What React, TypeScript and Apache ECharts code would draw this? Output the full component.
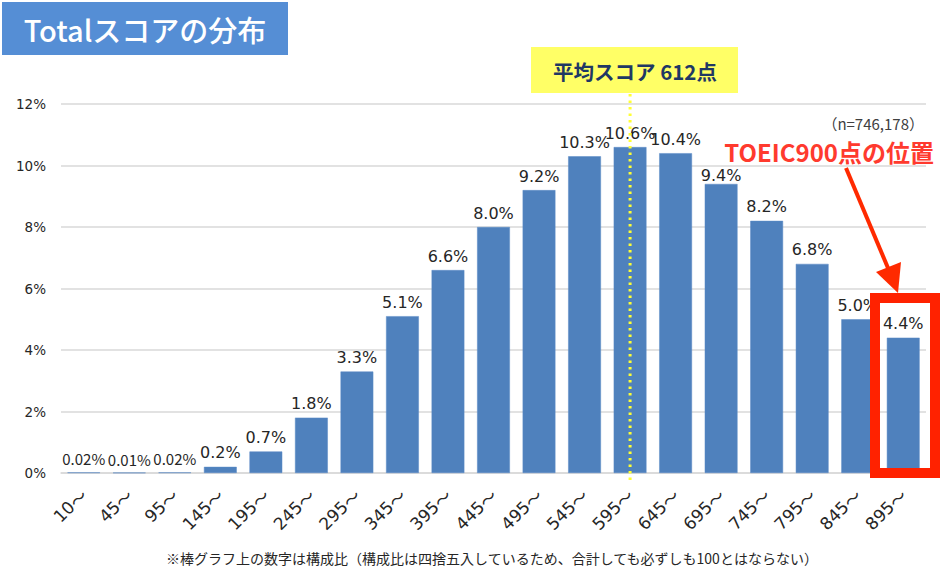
import React, { useEffect, useRef } from "react";
import * as echarts from "echarts";

const categories = ["10～", "45～", "95～", "145～", "195～", "245～", "295～", "345～", "395～", "445～", "495～", "545～", "595～", "645～", "695～", "745～", "795～", "845～", "895～"];
const shares = [0.02, 0.01, 0.02, 0.2, 0.7, 1.8, 3.3, 5.1, 6.6, 8.0, 9.2, 10.3, 10.6, 10.4, 9.4, 8.2, 6.8, 5.0, 4.4];
const yTicks = { min: 0, max: 12, interval: 2 };
const meanCategory = "595～";
const titleText = "Totalスコアの分布";
const meanText = "平均スコア 612点";
const sampleText = "（n=746,178）";
const highlightText = "TOEIC900点の位置";
const footnote = "※棒グラフ上の数字は構成比（構成比は四捨五入しているため、合計しても必ずしも100とはならない）";

const FONT = "'DejaVu Sans', 'Noto Sans CJK JP', sans-serif";
const JFONT = "'Noto Sans CJK JP', 'DejaVu Sans', sans-serif";

export default function App() {
  const ref = useRef<HTMLDivElement>(null);
  useEffect(() => {
    if (!ref.current) return;
    const chart = echarts.init(ref.current, undefined, { renderer: "svg" });
    chart.setOption({
      animation: false,
      backgroundColor: "#ffffff",
      grid: { left: 61, right: 14, top: 104, bottom: 97, containLabel: false },
      xAxis: {
        type: "category",
        data: categories,
        axisLine: { lineStyle: { color: "#D9D9D9", width: 1.5 } },
        axisTick: { show: false },
        axisLabel: {
          rotate: 45,
          margin: 19,
          interval: 0,
          formatter: (v: string) => `{n|${v.replace("～", "")}}{t|～}`,
          rich: {
            n: { fontSize: 17, color: "#262626", fontFamily: FONT },
            t: { fontSize: 17, color: "#262626", fontFamily: JFONT },
          },
        },
      },
      yAxis: {
        type: "value",
        min: yTicks.min,
        max: yTicks.max,
        interval: yTicks.interval,
        axisLine: { show: false },
        axisTick: { show: false },
        axisLabel: { formatter: "{value}%", fontSize: 13.5, color: "#262626", fontFamily: FONT, margin: 15 },
        splitLine: { lineStyle: { color: "#D9D9D9", width: 1.5 } },
      },
      series: [
        {
          type: "bar",
          data: shares.map((v, i) =>
            v < 0.1
              ? { value: v, label: { fontFamily: JFONT, fontSize: 15 } }
              : i === 14
              ? { value: v, label: { distance: 0 } }
              : { value: v }
          ),
          barCategoryGap: "28%",
          itemStyle: { color: "#4F81BD", borderColor: "#5B8BC6", borderWidth: 0.5 },
          label: {
            show: true,
            position: "top",
            distance: 6,
            fontSize: 16,
            color: "#262626",
            fontFamily: FONT,
            formatter: (p: any) => (p.value < 0.1 ? p.value.toFixed(2) : p.value.toFixed(1)) + "%",
          },
        },
      ],
    });

    const mx = chart.convertToPixel({ xAxisIndex: 0 }, meanCategory) as number;

    chart.setOption({
      graphic: [
        { id: "titleBox", type: "rect", shape: { x: 2, y: 2, width: 286, height: 53 }, style: { fill: "#558ED5" }, z: 10 },
        {
          id: "titleText",
          type: "text",
          x: 145,
          y: 29,
          style: {
            text: titleText,
            fill: "#ffffff",
            font: `500 29px ${JFONT}`,
            align: "center",
            verticalAlign: "middle",
            shadowColor: "rgba(0,0,0,0.35)",
            shadowBlur: 3,
            shadowOffsetX: 1,
            shadowOffsetY: 1,
          },
          z: 11,
        },
        {
          id: "meanLine",
          type: "line",
          shape: { x1: mx, y1: 94, x2: mx, y2: 480 },
          style: { stroke: "#FFFF33", lineWidth: 3, lineDash: [2.5, 4] },
          z: 20,
        },
        { id: "meanBox", type: "rect", shape: { x: 531, y: 47, width: 207, height: 46 }, style: { fill: "#FFFF66" }, z: 10 },
        {
          id: "meanText",
          type: "text",
          x: 635,
          y: 71,
          style: { text: meanText, fill: "#1F3864", font: `bold 20.5px ${JFONT}`, align: "center", verticalAlign: "middle" },
          z: 11,
        },
        {
          id: "nText",
          type: "text",
          x: 924,
          y: 123,
          style: { text: sampleText, fill: "#404040", font: `15px ${JFONT}`, align: "right", verticalAlign: "middle" },
          z: 11,
        },
        {
          id: "hlText",
          type: "text",
          x: 934,
          y: 151,
          style: { text: highlightText, fill: "#FF3A2E", font: `bold 24px ${JFONT}`, align: "right", verticalAlign: "middle" },
          z: 11,
        },
        {
          id: "arrowLine",
          type: "line",
          shape: { x1: 846, y1: 168, x2: 888, y2: 268 },
          style: { stroke: "#FF2A00", lineWidth: 4 },
          z: 21,
        },
        {
          id: "arrowHead",
          type: "polygon",
          shape: { points: [[898, 293], [876, 272], [901, 262]] },
          style: { fill: "#FF2A00" },
          z: 21,
        },
        {
          id: "hlBox",
          type: "rect",
          shape: { x: 875, y: 298, width: 60, height: 175 },
          style: { fill: "none", stroke: "#FF2200", lineWidth: 10 },
          z: 21,
        },
        {
          id: "foot",
          type: "text",
          x: 492,
          y: 558,
          style: { text: footnote, fill: "#262626", font: `14px ${JFONT}`, align: "center", verticalAlign: "middle" },
          z: 11,
        },
      ],
    });
    return () => chart.dispose();
  }, []);
  return <div ref={ref} style={{ position: "absolute", left: 0, top: 0, width: 940, height: 570 }} />;
}
